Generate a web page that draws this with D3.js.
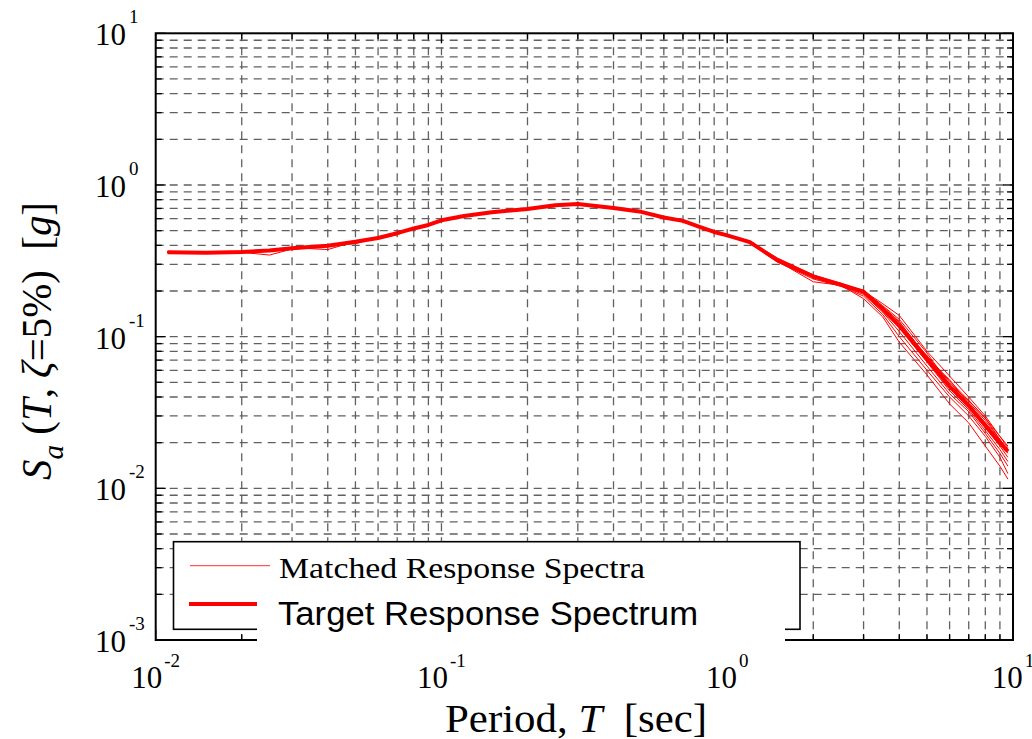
<!DOCTYPE html>
<html><head><meta charset="utf-8">
<script src="https://cdn.jsdelivr.net/npm/d3@7"></script>
<style>body{margin:0;background:#fff}svg{display:block}</style>
</head><body>
<svg id="chart" width="1032" height="739"></svg>
<script>
const periods = [0.011,0.015,0.02,0.025,0.03,0.04,0.05,0.06,0.07,0.08,0.09,0.1,0.12,0.15,0.2,0.25,0.3,0.4,0.5,0.6,0.7,0.8,0.9,1.0,1.2,1.5,2.0,2.5,3.0,3.5,4.0,5.0,6.0,7.0,8.0,9.0,9.6];
const target = [0.360,0.358,0.362,0.370,0.383,0.398,0.423,0.447,0.481,0.517,0.545,0.585,0.625,0.660,0.695,0.735,0.750,0.705,0.665,0.610,0.580,0.530,0.490,0.465,0.420,0.318,0.250,0.220,0.198,0.152,0.118,0.071,0.047,0.035,0.026,0.020,0.0175];
const matched1 = [0.362,0.360,0.365,0.372,0.380,0.402,0.420,0.450,0.478,0.520,0.548,0.580,0.630,0.655,0.700,0.730,0.755,0.700,0.668,0.605,0.585,0.525,0.495,0.460,0.425,0.322,0.245,0.225,0.195,0.155,0.125,0.074,0.050,0.037,0.028,0.021,0.018];
const matched2 = [0.358,0.356,0.360,0.345,0.378,0.392,0.428,0.440,0.485,0.512,0.550,0.590,0.620,0.665,0.690,0.740,0.745,0.710,0.660,0.615,0.575,0.535,0.485,0.470,0.415,0.310,0.240,0.215,0.185,0.140,0.100,0.060,0.040,0.030,0.022,0.016,0.0125];
const matched3 = [0.361,0.362,0.358,0.372,0.386,0.375,0.425,0.448,0.476,0.525,0.540,0.582,0.628,0.650,0.698,0.725,0.760,0.698,0.670,0.600,0.588,0.528,0.498,0.458,0.422,0.330,0.255,0.224,0.200,0.165,0.138,0.080,0.055,0.040,0.030,0.022,0.019];
const matched4 = [0.359,0.361,0.366,0.368,0.381,0.400,0.410,0.452,0.488,0.515,0.552,0.588,0.632,0.668,0.688,0.720,0.752,0.712,0.662,0.612,0.578,0.532,0.488,0.462,0.418,0.315,0.230,0.218,0.178,0.135,0.092,0.056,0.036,0.027,0.019,0.0140,0.0115];
const matched5 = [0.363,0.357,0.361,0.375,0.384,0.396,0.430,0.444,0.470,0.522,0.542,0.578,0.622,0.660,0.702,0.742,0.748,0.702,0.672,0.608,0.582,0.528,0.492,0.468,0.428,0.320,0.252,0.222,0.202,0.160,0.130,0.078,0.048,0.038,0.029,0.021,0.0175];
const matched6 = [0.360,0.359,0.363,0.370,0.388,0.404,0.420,0.455,0.482,0.510,0.546,0.586,0.626,0.658,0.694,0.738,0.742,0.706,0.664,0.614,0.576,0.536,0.486,0.472,0.412,0.318,0.248,0.220,0.196,0.150,0.115,0.068,0.044,0.033,0.024,0.018,0.015];
const matched7 = [0.362,0.360,0.359,0.366,0.382,0.399,0.422,0.446,0.480,0.518,0.544,0.584,0.624,0.662,0.696,0.734,0.758,0.704,0.666,0.606,0.584,0.526,0.494,0.462,0.424,0.316,0.250,0.219,0.194,0.158,0.126,0.072,0.052,0.036,0.027,0.0205,0.017];
const matched8 = [0.357,0.362,0.364,0.371,0.380,0.397,0.426,0.442,0.484,0.520,0.548,0.580,0.628,0.656,0.692,0.732,0.746,0.708,0.660,0.610,0.580,0.534,0.490,0.466,0.420,0.312,0.246,0.216,0.190,0.145,0.108,0.064,0.042,0.032,0.023,0.017,0.014];
const matched9 = [0.361,0.358,0.362,0.373,0.384,0.401,0.424,0.449,0.479,0.516,0.547,0.586,0.626,0.664,0.698,0.736,0.754,0.700,0.668,0.612,0.582,0.530,0.490,0.464,0.422,0.320,0.252,0.221,0.199,0.150,0.120,0.075,0.051,0.038,0.029,0.022,0.0185];
const matched10 = [0.360,0.356,0.361,0.369,0.379,0.398,0.421,0.447,0.481,0.518,0.543,0.583,0.624,0.659,0.694,0.734,0.750,0.704,0.664,0.608,0.579,0.531,0.489,0.466,0.418,0.317,0.249,0.220,0.197,0.153,0.118,0.070,0.046,0.034,0.025,0.019,0.016];
const matchedSeries = [matched1,matched2,matched3,matched4,matched5,matched6,matched7,matched8,matched9,matched10];
const xTickExps = [-2,-1,0,1];
const yTickExps = [-3,-2,-1,0,1];
const xLabelText = ["Period, ", "T", "  [sec]"];
const legendLabels = ["Matched Response Spectra", "Target Response Spectrum"];

const svg = d3.select("#chart");
const L = 155.7, R = 1013, T = 33.3, B = 640;
const x = d3.scaleLog().domain([0.01, 10]).range([L, R]);
const y = d3.scaleLog().domain([0.001, 10]).range([B, T]);
const serif = "'Liberation Serif','Times New Roman',serif";
const sans = "'Liberation Sans',Arial,sans-serif";

const xGrid = [], yGrid = [];
for (let e = -2; e < 1; e++) for (let m = 1; m < 10; m++) xGrid.push(m * Math.pow(10, e));
for (let e = -3; e < 1; e++) for (let m = 1; m < 10; m++) yGrid.push(m * Math.pow(10, e));

const grid = svg.append("g").attr("stroke", "#606060").attr("stroke-width", 1.3).attr("stroke-dasharray", "8,6");
grid.selectAll("line.v").data(xGrid.filter(v => v > 0.0101)).enter().append("line")
  .attr("x1", d => x(d)).attr("x2", d => x(d)).attr("y1", T).attr("y2", B);
grid.selectAll("line.h").data(yGrid.filter(v => v > 0.00101)).enter().append("line")
  .attr("x1", L).attr("x2", R).attr("y1", d => y(d)).attr("y2", d => y(d));

const tk = svg.append("g").attr("stroke", "#000").attr("stroke-width", 1.3);
xGrid.concat([10]).forEach(v => {
  const len = (Math.abs(Math.log10(v) - Math.round(Math.log10(v))) < 1e-9) ? 10 : 6;
  tk.append("line").attr("x1", x(v)).attr("x2", x(v)).attr("y1", B).attr("y2", B - len);
  tk.append("line").attr("x1", x(v)).attr("x2", x(v)).attr("y1", T).attr("y2", T + len);
});
yGrid.concat([10]).forEach(v => {
  const len = (Math.abs(Math.log10(v) - Math.round(Math.log10(v))) < 1e-9) ? 10 : 6;
  tk.append("line").attr("y1", y(v)).attr("y2", y(v)).attr("x1", L).attr("x2", L + len);
  tk.append("line").attr("y1", y(v)).attr("y2", y(v)).attr("x1", R).attr("x2", R - len);
});

const line = d3.line().x((d, i) => x(periods[i])).y(d => y(d));
svg.append("g").selectAll("path").data(matchedSeries).enter().append("path")
  .attr("d", line).attr("fill", "none").attr("stroke", "#ff0000").attr("stroke-width", 1).attr("stroke-linejoin", "round");
svg.append("path").attr("d", line(target)).attr("fill", "none").attr("stroke", "#ff0000")
  .attr("stroke-width", 4).attr("stroke-linejoin", "round");

svg.append("rect").attr("x", L).attr("y", T).attr("width", R - L).attr("height", B - T)
  .attr("fill", "none").attr("stroke", "#000").attr("stroke-width", 2);

xTickExps.forEach(e => {
  const t = svg.append("text").attr("x", x(Math.pow(10, e))).attr("y", B + 48)
    .attr("text-anchor", "middle").attr("font-family", serif).attr("font-size", 31).attr("fill", "#000");
  t.append("tspan").text("10");
  t.append("tspan").attr("dy", -21).attr("font-size", 19).attr("dx", 2).text(String(e));
});
yTickExps.forEach(e => {
  const t = svg.append("text").attr("x", 95).attr("y", y(Math.pow(10, e)) + 12)
    .attr("font-family", serif).attr("font-size", 31).attr("fill", "#000");
  t.append("tspan").text("10");
  t.append("tspan").attr("dy", -22).attr("dx", 3).attr("font-size", 19).text(String(e));
});

const xt = svg.append("text").attr("x", 576).attr("y", 732).attr("text-anchor", "middle")
  .attr("font-family", serif).attr("font-size", 40).attr("fill", "#000")
  .attr("textLength", 262).attr("lengthAdjust", "spacingAndGlyphs").attr("xml:space", "preserve");
xt.append("tspan").text(xLabelText[0]);
xt.append("tspan").attr("font-style", "italic").text(xLabelText[1]);
xt.append("tspan").text(xLabelText[2]);

const yt = svg.append("text").attr("transform", "translate(51,341) rotate(-90)").attr("text-anchor", "middle")
  .attr("font-family", serif).attr("font-size", 42).attr("fill", "#000")
  .attr("textLength", 278).attr("lengthAdjust", "spacingAndGlyphs").attr("xml:space", "preserve");
yt.append("tspan").attr("font-style", "italic").text("S");
yt.append("tspan").attr("font-style", "italic").attr("font-size", 30).attr("dy", 12).text("a");
yt.append("tspan").attr("dy", -12).text(" (");
yt.append("tspan").attr("font-style", "italic").text("T");
yt.append("tspan").text(", ");
yt.append("tspan").attr("font-style", "italic").text("ζ");
yt.append("tspan").text("=5%)  [");
yt.append("tspan").attr("font-style", "italic").text("g");
yt.append("tspan").text("]");

svg.append("rect").attr("x", 173.5).attr("y", 541.7).attr("width", 626.5).attr("height", 87.6)
  .attr("fill", "#fff").attr("stroke", "#000").attr("stroke-width", 1.6);
svg.append("line").attr("x1", 190).attr("x2", 270).attr("y1", 565.7).attr("y2", 565.7)
  .attr("stroke", "#ff3030").attr("stroke-width", 1);
svg.append("line").attr("x1", 189).attr("x2", 270).attr("y1", 604).attr("y2", 604)
  .attr("stroke", "#ff0000").attr("stroke-width", 4);
svg.append("rect").attr("x", 257).attr("y", 586).attr("width", 528).attr("height", 60).attr("fill", "#fff");
svg.append("text").attr("x", 279).attr("y", 578).attr("font-family", serif).attr("font-size", 29)
  .attr("textLength", 366).attr("lengthAdjust", "spacingAndGlyphs").attr("fill", "#000").text(legendLabels[0]);
svg.append("text").attr("x", 278).attr("y", 625).attr("font-family", sans).attr("font-size", 34)
  .attr("textLength", 420).attr("lengthAdjust", "spacingAndGlyphs").attr("fill", "#000").text(legendLabels[1]);
</script>
</body></html>
